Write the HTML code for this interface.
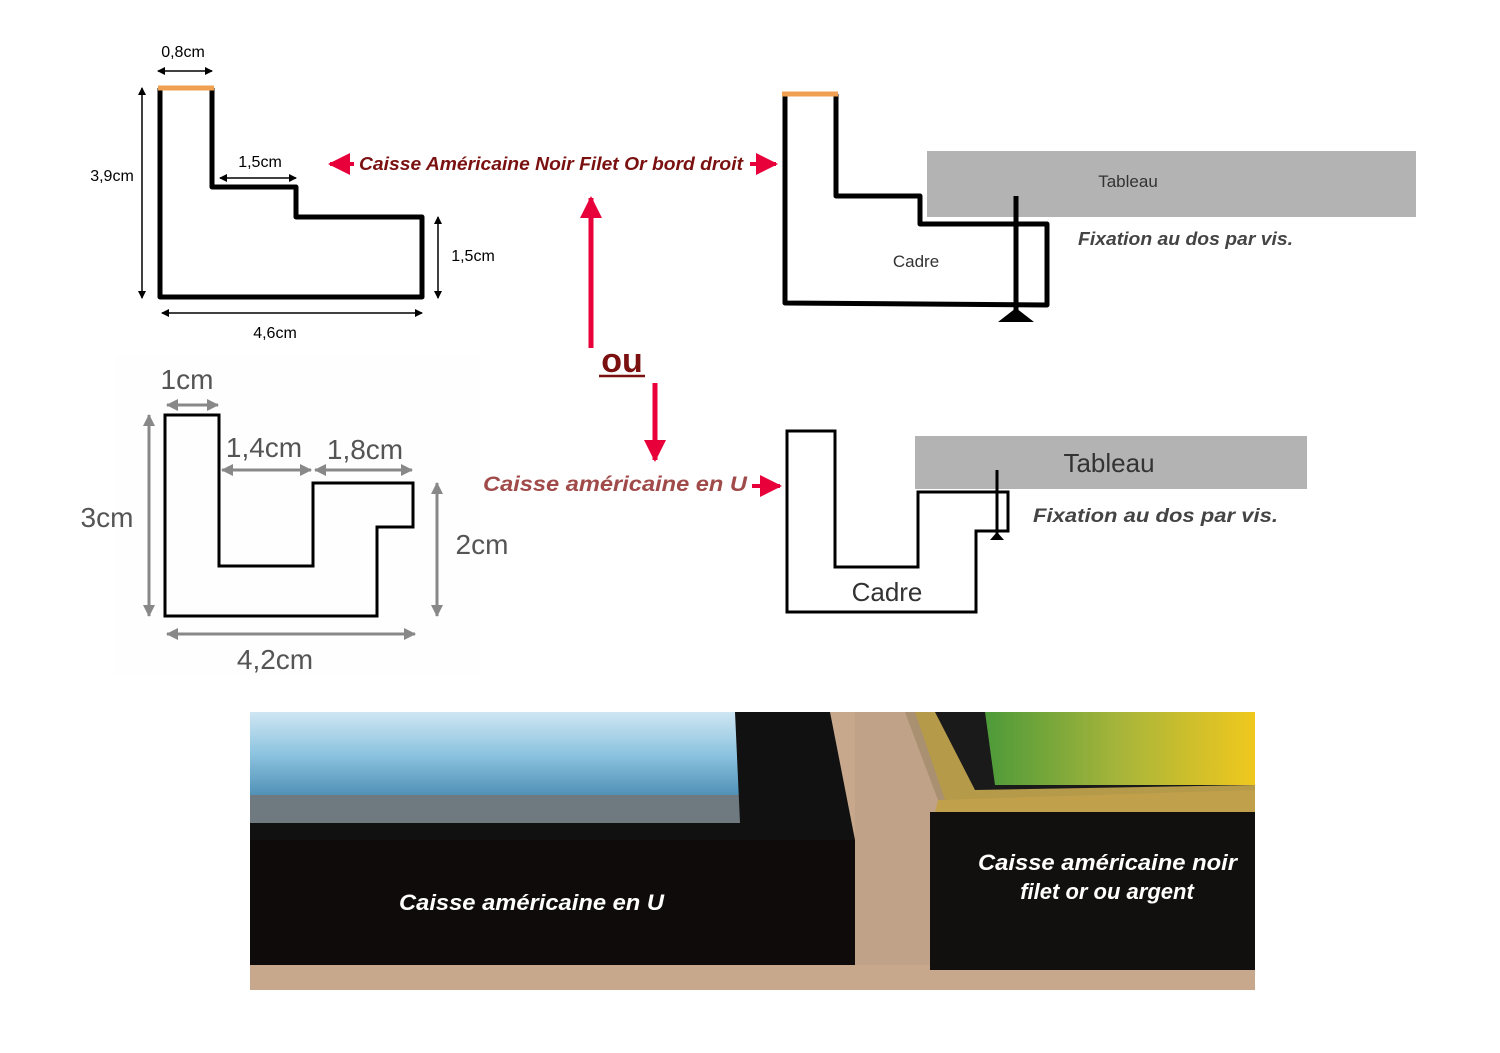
<!DOCTYPE html>
<html><head><meta charset="utf-8"><style>
html,body{margin:0;padding:0;background:#fff;}
svg{display:block;}
text{font-family:"Liberation Sans",sans-serif;}
</style></head><body>
<svg width="1500" height="1053" viewBox="0 0 1500 1053" xmlns="http://www.w3.org/2000/svg">
<defs>
<marker id="ah" markerWidth="8" markerHeight="8" refX="7" refY="4" orient="auto-start-reverse" markerUnits="userSpaceOnUse"><path d="M0,0 L8,4 L0,8 z" fill="#000"/></marker>
<marker id="ag" markerWidth="12" markerHeight="12" refX="11" refY="6" orient="auto-start-reverse" markerUnits="userSpaceOnUse"><path d="M0,0 L12,6 L0,12 z" fill="#888"/></marker>
<marker id="ar" markerWidth="22" markerHeight="22" refX="20" refY="11" orient="auto-start-reverse" markerUnits="userSpaceOnUse"><path d="M0,0 L22,11 L0,22 z" fill="#e8003a"/></marker>
<linearGradient id="blue" x1="0" y1="0" x2="0" y2="1"><stop offset="0" stop-color="#cfe6f3"/><stop offset="0.5" stop-color="#8cc3df"/><stop offset="1" stop-color="#4e8fb5"/></linearGradient>
<linearGradient id="paint2" x1="0" y1="0" x2="1" y2="0"><stop offset="0" stop-color="#4d9a3a"/><stop offset="0.5" stop-color="#a7b53a"/><stop offset="1" stop-color="#f0c81e"/></linearGradient>
</defs>

<!-- Top-left profile -->
<path d="M160,88 L160,297 L422,297 L422,217 L296,217 L296,187 L212,187 L212,88" fill="none" stroke="#000" stroke-width="5" stroke-linejoin="round"/>
<line x1="158" y1="88" x2="214" y2="88" stroke="#f0a050" stroke-width="5"/>
<line x1="158" y1="71" x2="212" y2="71" stroke="#000" stroke-width="1.5" marker-start="url(#ah)" marker-end="url(#ah)"/>
<text x="183" y="57" font-size="16" text-anchor="middle">0,8cm</text>
<line x1="220" y1="178" x2="296" y2="178" stroke="#000" stroke-width="1.5" marker-start="url(#ah)" marker-end="url(#ah)"/>
<text x="260" y="167" font-size="16" text-anchor="middle">1,5cm</text>
<line x1="142" y1="88" x2="142" y2="298" stroke="#000" stroke-width="1.5" marker-start="url(#ah)" marker-end="url(#ah)"/>
<text x="112" y="181" font-size="16" text-anchor="middle">3,9cm</text>
<line x1="438" y1="217" x2="438" y2="298" stroke="#000" stroke-width="1.5" marker-start="url(#ah)" marker-end="url(#ah)"/>
<text x="473" y="261" font-size="16" text-anchor="middle">1,5cm</text>
<line x1="162" y1="313" x2="422" y2="313" stroke="#000" stroke-width="1.5" marker-start="url(#ah)" marker-end="url(#ah)"/>
<text x="275" y="338" font-size="16" text-anchor="middle">4,6cm</text>

<!-- Top-right -->
<rect x="927" y="151" width="489" height="66" fill="#b3b3b3"/>
<text x="1128" y="187" font-size="17" fill="#333" text-anchor="middle">Tableau</text>
<path d="M785,94 L785,303 L1047,305 L1047,224 L920,224 L920,196 L836,196 L836,94" fill="none" stroke="#000" stroke-width="5" stroke-linejoin="round"/>
<line x1="782" y1="94" x2="838" y2="94" stroke="#f0a050" stroke-width="5"/>
<line x1="1016" y1="196" x2="1016" y2="312" stroke="#000" stroke-width="5"/>
<path d="M998,322 L1016,308 L1034,322 z" fill="#000"/>
<text x="916" y="267" font-size="17" fill="#333" text-anchor="middle">Cadre</text>
<text x="1078" y="245" font-size="18" font-weight="bold" font-style="italic" fill="#444" textLength="215" lengthAdjust="spacingAndGlyphs">Fixation au dos par vis.</text>

<!-- Middle labels and arrows -->
<line x1="354" y1="164" x2="330" y2="164" stroke="#e8003a" stroke-width="4" marker-end="url(#ar)"/>
<text x="359" y="170" font-size="18" font-weight="bold" font-style="italic" fill="#7a1010" textLength="384" lengthAdjust="spacingAndGlyphs">Caisse Américaine Noir Filet Or bord droit</text>
<line x1="750" y1="164" x2="776" y2="164" stroke="#e8003a" stroke-width="4" marker-end="url(#ar)"/>
<line x1="591" y1="348" x2="591" y2="198" stroke="#e8003a" stroke-width="5" marker-end="url(#ar)"/>
<text x="622" y="372" font-size="34" font-weight="bold" fill="#7a1010" text-anchor="middle">ou</text>
<line x1="599" y1="376" x2="645" y2="376" stroke="#7a1010" stroke-width="2.5"/>
<line x1="655" y1="383" x2="655" y2="460" stroke="#e8003a" stroke-width="5" marker-end="url(#ar)"/>
<line x1="478" y1="486" x2="452" y2="486" stroke="#e8003a" stroke-width="4" marker-end="url(#ar)"/>
<text x="483" y="491" font-size="21" font-weight="bold" font-style="italic" fill="#a04a4a" textLength="264" lengthAdjust="spacingAndGlyphs">Caisse américaine en U</text>
<line x1="752" y1="486" x2="780" y2="486" stroke="#e8003a" stroke-width="4" marker-end="url(#ar)"/>

<!-- Bottom-left U profile -->
<rect x="115" y="355" width="365" height="320" fill="#fefefe"/>
<path d="M165,415 L165,616 L377,616 L377,527 L413,527 L413,483 L313,483 L313,566 L219,566 L219,415 Z" fill="none" stroke="#000" stroke-width="3"/>
<line x1="167" y1="405" x2="218" y2="405" stroke="#888" stroke-width="3" marker-start="url(#ag)" marker-end="url(#ag)"/>
<text x="187" y="389" font-size="28" fill="#555" text-anchor="middle">1cm</text>
<line x1="222" y1="470" x2="311" y2="470" stroke="#888" stroke-width="3" marker-start="url(#ag)" marker-end="url(#ag)"/>
<text x="264" y="457" font-size="28" fill="#555" text-anchor="middle">1,4cm</text>
<line x1="315" y1="470" x2="412" y2="470" stroke="#888" stroke-width="3" marker-start="url(#ag)" marker-end="url(#ag)"/>
<text x="365" y="459" font-size="28" fill="#555" text-anchor="middle">1,8cm</text>
<line x1="149" y1="415" x2="149" y2="616" stroke="#888" stroke-width="3" marker-start="url(#ag)" marker-end="url(#ag)"/>
<text x="107" y="527" font-size="28" fill="#555" text-anchor="middle">3cm</text>
<line x1="437" y1="483" x2="437" y2="616" stroke="#888" stroke-width="3" marker-start="url(#ag)" marker-end="url(#ag)"/>
<text x="482" y="554" font-size="28" fill="#555" text-anchor="middle">2cm</text>
<line x1="167" y1="634" x2="415" y2="634" stroke="#888" stroke-width="3" marker-start="url(#ag)" marker-end="url(#ag)"/>
<text x="275" y="669" font-size="28" fill="#555" text-anchor="middle">4,2cm</text>

<!-- Bottom-right U -->
<rect x="915" y="436" width="392" height="53" fill="#b3b3b3"/>
<text x="1109" y="472" font-size="26" fill="#333" text-anchor="middle">Tableau</text>
<path d="M787,431 L787,612 L976,612 L976,531 L1008,531 L1008,492 L918,492 L918,567 L835,567 L835,431 Z" fill="none" stroke="#000" stroke-width="3"/>
<line x1="997" y1="470" x2="997" y2="534" stroke="#000" stroke-width="3"/>
<path d="M990,540 L997,532 L1004,540 z" fill="#000"/>
<text x="887" y="601" font-size="26" fill="#333" text-anchor="middle">Cadre</text>
<text x="1033" y="522" font-size="19" font-weight="bold" font-style="italic" fill="#444" textLength="245" lengthAdjust="spacingAndGlyphs">Fixation au dos par vis.</text>

<!-- Photo -->
<rect x="250" y="712" width="1005" height="278" fill="#c7a88c"/>
<rect x="250" y="712" width="490" height="85" fill="url(#blue)"/>
<rect x="250" y="795" width="490" height="28" fill="#6f7a80"/>
<path d="M735,712 L830,712 L855,840 L855,965 L250,965 L250,823 L740,823 Z" fill="#111"/>
<rect x="250" y="840" width="605" height="125" fill="#0e0b0a"/>
<path d="M855,712 L910,712 L940,800 L930,965 L855,965 Z" fill="#bfa287"/>
<path d="M905,712 L940,712 L960,790 L950,800 L938,800 Z" fill="#a89070"/>
<path d="M915,712 L1255,712 L1255,795 L945,800 Z" fill="#b59a4a"/>
<path d="M935,712 L1255,712 L1255,785 L975,790 Z" fill="#1a1a1a"/>
<path d="M985,712 L1255,712 L1255,785 L995,785 Z" fill="url(#paint2)"/>
<path d="M938,800 L1255,790 L1255,812 L935,812 Z" fill="#c0a04a"/>
<rect x="930" y="812" width="325" height="158" fill="#12100e"/>
<text x="399" y="910" font-size="22" font-weight="bold" font-style="italic" fill="#fff" textLength="265" lengthAdjust="spacingAndGlyphs">Caisse américaine en U</text>
<text x="978" y="870" font-size="22" font-weight="bold" font-style="italic" fill="#fff" textLength="259" lengthAdjust="spacingAndGlyphs">Caisse américaine noir</text>
<text x="1107" y="899" font-size="22" font-weight="bold" font-style="italic" fill="#fff" text-anchor="middle">filet or ou argent</text>
</svg>
</body></html>
